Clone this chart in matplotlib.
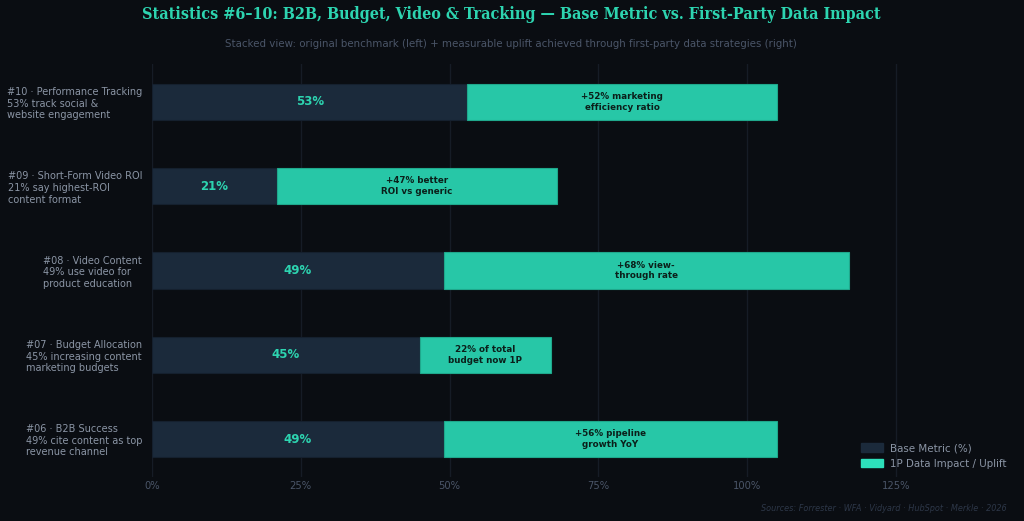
import matplotlib
matplotlib.use("Agg")
from matplotlib import pyplot as plt
from matplotlib.patches import Patch

# data, bottom to top
categories = [
    "#06 · B2B Success\n49% cite content as top\nrevenue channel",
    "#07 · Budget Allocation\n45% increasing content\nmarketing budgets",
    "#08 · Video Content\n49% use video for\nproduct education",
    "#09 · Short-Form Video ROI\n21% say highest-ROI\ncontent format",
    "#10 · Performance Tracking\n53% track social &\nwebsite engagement",
]
base_values = [49, 45, 49, 21, 53]
uplift_values = [56, 22, 68, 47, 52]
uplift_labels = [
    "+56% pipeline\ngrowth YoY",
    "22% of total\nbudget now 1P",
    "+68% view-\nthrough rate",
    "+47% better\nROI vs generic",
    "+52% marketing\nefficiency ratio",
]
xticks = [0, 25, 50, 75, 100, 125]

BG = "#0a0d12"
BASE = "#1b2a3b"
TEAL = "#27c7a7"
TEAL_TEXT = "#2dd4b0"
GRID = "#161c26"
MUTED = "#4a5568"
LABEL = "#8b95a5"

fig = plt.figure(figsize=(10.24, 5.21), dpi=100, facecolor=BG)
ax = fig.add_axes([0.1484, 0.0845, 0.843, 0.7927])
ax.set_facecolor(BG)

ypos = list(range(len(categories)))
ax.barh(ypos, base_values, height=0.43, color=BASE, edgecolor="#15202e",
        linewidth=0.8, zorder=3)
ax.barh(ypos, uplift_values, left=base_values, height=0.43, color=TEAL,
        edgecolor="#1fa88c", linewidth=0.8, zorder=3)

for y, b, u, txt in zip(ypos, base_values, uplift_values, uplift_labels):
    ax.text(b / 2, y, f"{b}%", ha="center", va="center", color=TEAL_TEXT,
            fontsize=8.5, fontweight="bold", zorder=4)
    ax.text(b + u / 2, y, txt, ha="center", va="center", color="#0b1f1a",
            fontsize=6.3, fontweight="bold", linespacing=1.25, zorder=4)

ax.set_xlim(0, 145)
ax.set_ylim(-0.45, 4.45)
ax.set_xticks(xticks)
ax.set_xticklabels([f"{t}%" for t in xticks])
ax.set_yticks(ypos)
ax.set_yticklabels(categories)
for lab in ax.get_yticklabels():
    lab.set_multialignment("left")
    lab.set_linespacing(1.2)

ax.tick_params(axis="x", colors=MUTED, labelsize=7.2, length=0, pad=3)
ax.tick_params(axis="y", colors=LABEL, labelsize=7.0, length=0, pad=7)
ax.grid(axis="x", color=GRID, linewidth=1, zorder=0)
for spine in ax.spines.values():
    spine.set_visible(False)

legend_handles = [
    Patch(color=BASE, label="Base Metric (%)"),
    Patch(color="#2de0bb", label="1P Data Impact / Uplift"),
]
leg = ax.legend(handles=legend_handles, loc="lower right", frameon=False,
                bbox_to_anchor=(1.0, 0.0),
                fontsize=7.4, handlelength=2.2, handleheight=0.9,
                borderaxespad=0.4, labelspacing=0.55, handletextpad=0.7)
for t in leg.get_texts():
    t.set_color(LABEL)

fig.text(0.499, 0.972,
         "Statistics #6–10: B2B, Budget, Video & Tracking — Base Metric vs. First-Party Data Impact",
         ha="center", va="center", color=TEAL_TEXT, fontsize=11.5,
         fontweight="bold", family="DejaVu Serif", fontstretch="condensed")
fig.text(0.499, 0.915,
         "Stacked view: original benchmark (left) + measurable uplift achieved through first-party data strategies (right)",
         ha="center", va="center", color=MUTED, fontsize=7.4)
fig.text(0.983, 0.024, "Sources: Forrester · WFA · Vidyard · HubSpot · Merkle · 2026",
         ha="right", va="center", color="#2d3748", fontsize=5.9, style="italic")

fig.savefig("out.png", dpi=100, facecolor=BG)
